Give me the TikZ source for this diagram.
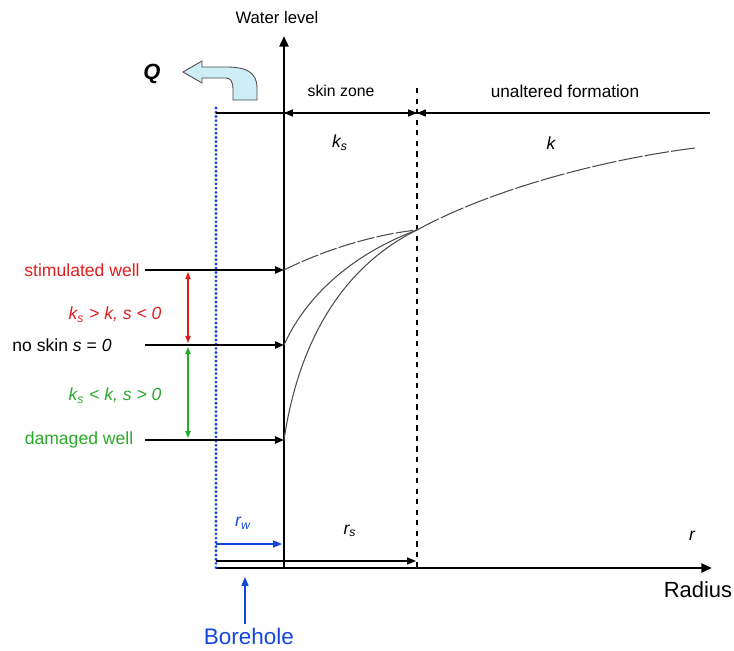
\documentclass[tikz,border=0pt]{standalone}
\usepackage{fontspec}
\setmainfont{Liberation Sans}
\usetikzlibrary{arrows.meta}
\definecolor{wellred}{RGB}{225,30,30}
\definecolor{wellgreen}{RGB}{40,170,40}
\definecolor{boreblue}{RGB}{20,70,220}
\definecolor{qfill}{RGB}{205,238,245}
\begin{document}
\begin{tikzpicture}[x=0.02cm,y=-0.02cm,
  axis/.style={line width=1.6pt,-{Triangle[length=6pt,width=5pt]}},
  thin/.style={line width=0.6pt},
  lvl/.style={line width=1pt,-{Triangle[length=5pt,width=4pt]}},
  curve/.style={line width=0.6pt,black!70},
  lbl/.style={inner sep=1pt,font=\fontsize{10}{12}\selectfont},
  sym/.style={inner sep=1pt,font=\itshape\fontsize{10}{12}\selectfont},
  span/.style={line width=0.7pt,{Triangle[length=4pt,width=3pt]}-{Triangle[length=4pt,width=3pt]}}]
\useasboundingbox (0,0) rectangle (734,650);
% coordinates
\coordinate (O) at (216,568);
\coordinate (W) at (284,568);
\coordinate (Wtop) at (284,36);
\coordinate (Rend) at (712,568);
\coordinate (S) at (417,568);
\coordinate (Stop) at (417,88);
\coordinate (Bt) at (216,108);
\coordinate (L0) at (216,113);
\coordinate (Lw) at (284,113);
\coordinate (Ls) at (417,113);
\coordinate (Lend) at (710,113);
\coordinate (P) at (417,230);
\coordinate (Pend) at (695,148);
\coordinate (hS) at (284,270);
\coordinate (hN) at (284,345);
\coordinate (hD) at (284,440);
% axes
\draw[axis] (O) -- (Rend);
\draw[axis] (W) -- (Wtop);
\node[font=\fontsize{9.5}{11}\selectfont] (wl) at (277,18) {Water level};
\node[font=\fontsize{12.5}{14}\selectfont] (rad) at (698,590) {Radius};
% borehole wall
\draw[boreblue,line width=1.8pt,line cap=round,dash pattern=on 0pt off 2.4pt] (Bt) -- (O);
% dashed skin boundary
\draw[line width=0.8pt,dashed] (Stop) -- (S);
% top line with zone arrows
\draw[thin] (L0) -- (Lend);
\draw[thin,{Triangle[length=5pt,width=4pt]}-{Triangle[length=5pt,width=4pt]}] (Lw) -- (Ls);
\draw[thin,{Triangle[length=5pt,width=4pt]}-] (Ls) -- (440,113);
\node[font=\fontsize{9}{11}\selectfont] (sz) at (341,91) {skin zone};
\node[font=\fontsize{9.8}{11}\selectfont] (uf) at (565,91) {unaltered formation};
\node[sym] (ks) at (340,143) {k\textsubscript{s}};
\node[sym] (kk) at (551,143) {k};
% curves
\draw[curve,dash pattern=on 14pt off 1.2pt] (P) .. controls (490,190) and (600,160) .. (Pend);
\draw[curve,dash pattern=on 10pt off 1.2pt] (hS) .. controls (320,252) and (370,235) .. (P);
\draw[curve] (hN) .. controls (305,298) and (350,255) .. (P);
\draw[curve] (hD) .. controls (298,345) and (340,268) .. (P);
% level arrows
\node[lbl,wellred] (st) at (82,270) {stimulated well};
\node[lbl] (ns) at (62,345) {no skin \textit{s} = \textit{0}};
\node[lbl,wellgreen] (dm) at (79,440) {damaged well};
\draw[lvl] (145,270) -- (hS);
\draw[lvl] (145,345) -- (hN);
\draw[lvl] (145,440) -- (hD);
\draw[span,wellred] (188,272) -- (188,343);
\draw[span,wellgreen] (188,347) -- (188,438);
\node[lbl,wellred] (cr) at (115,315) {\itshape k\textsubscript{s} > k, s < 0};
\node[lbl,wellgreen] (cg) at (115,396) {\itshape k\textsubscript{s} < k, s > 0};
% bottom radii
\draw[boreblue,line width=0.7pt,-{Triangle[length=5pt,width=4pt]}] (216,544) -- (282,544);
\node[sym,boreblue] (rw) at (243,523) {r\textsubscript{w}};
\draw[line width=0.7pt,-{Triangle[length=5pt,width=4pt]}] (216,561) -- (416,561);
\node[sym] (rs) at (350,531) {r\textsubscript{s}};
\node[sym] (r) at (692,536) {r};
% borehole label
\node[boreblue,font=\fontsize{12.8}{14}\selectfont] (bh) at (249,636) {Borehole};
\draw[boreblue,line width=0.6pt,-{Triangle[length=5pt,width=4pt]}] (245,624) -- (245,577);
% Q arrow
\node[font=\bfseries\itshape\fontsize{12.5}{14}\selectfont] (Q) at (152,74) {Q};
\draw[fill=qfill,draw=black!70,line width=0.5pt]
 (257,100) -- (257,88) .. controls (257,72) and (246,67) .. (226,67) -- (202,67) -- (202,61)
 -- (183,72) -- (202,83) -- (202,78) -- (226,78) .. controls (231,78) and (233,82) .. (233,90)
 -- (233,100) -- cycle;
\end{tikzpicture}
\end{document}
